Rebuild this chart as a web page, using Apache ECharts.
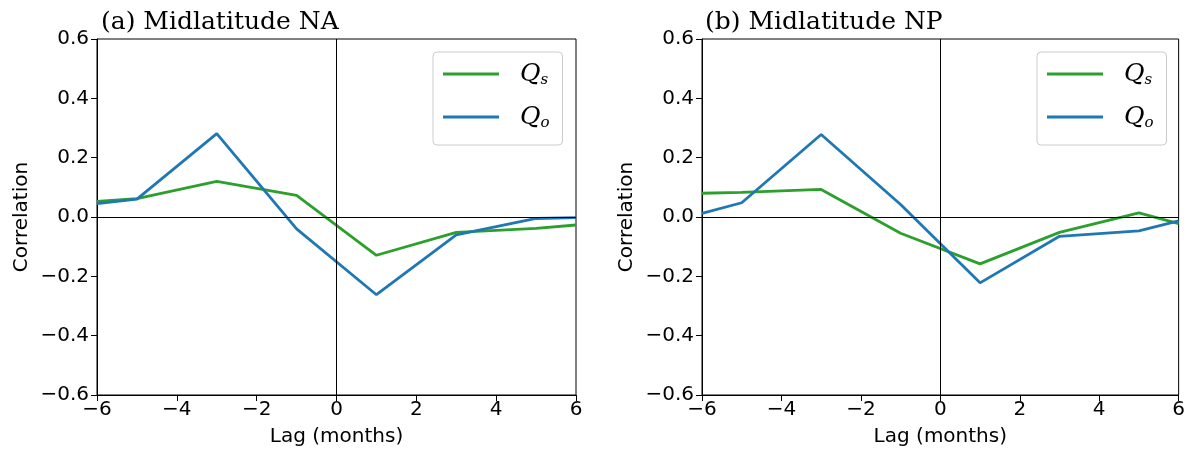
<!DOCTYPE html>
<html>
<head>
<meta charset="utf-8">
<script src="https://cdn.jsdelivr.net/npm/echarts@6/dist/echarts.min.js"></script>
<style>
html,body{margin:0;padding:0;background:#fff;}
#chart{width:1188px;height:452px;}
</style>
</head>
<body>
<div id="chart"></div>
<script>
// ---- data ----
const lags = [-6, -5, -3, -1, 1, 3, 5, 6];
const naQs = [0.053, 0.062, 0.120, 0.073, -0.129, -0.052, -0.038, -0.027];
const naQo = [0.045, 0.060, 0.281, -0.040, -0.262, -0.060, -0.005, -0.002];
const npQs = [0.080, 0.083, 0.093, -0.055, -0.158, -0.052, 0.014, -0.022];
const npQo = [0.012, 0.048, 0.278, 0.042, -0.222, -0.065, -0.047, -0.013];
const panelTitles = ['(a) Midlatitude NA', '(b) Midlatitude NP'];
const seriesNames = ['Qs', 'Qo'];
const xTicks = { min: -6, max: 6, interval: 2 };
const yTicks = { min: -0.6, max: 0.6, interval: 0.2 };

const GREEN = '#2ca02c', BLUE = '#1f77b4';
const pair = (ys) => lags.map((x, i) => [x, ys[i]]);
const fmtY = (v) => (v < -1e-9 ? '\u2212' : '') + Math.abs(v).toFixed(1);
const fmtX = (v) => (v < 0 ? '\u2212' + Math.abs(v) : String(v));

const grids = [
  { left: 97, top: 39, width: 479, height: 360 },
  { left: 702, top: 39, width: 477, height: 360 }
];

function xAxis(gi) {
  return {
    type: 'value', gridIndex: gi, min: xTicks.min, max: xTicks.max, interval: xTicks.interval,
    name: 'Lag (months)', nameLocation: 'middle', nameGap: 32,
    nameTextStyle: { fontFamily: 'DejaVu Sans', fontSize: 20, color: '#000' },
    axisLine: { show: true, onZero: false, lineStyle: { color: '#000', width: 1 } },
    axisTick: { show: true, length: 6, lineStyle: { color: '#000', width: 1 } },
    axisLabel: { formatter: fmtX, fontFamily: 'DejaVu Sans', fontSize: 20, color: '#000', margin: 5 },
    splitLine: { show: false }
  };
}
function yAxis(gi) {
  return {
    type: 'value', gridIndex: gi, min: yTicks.min, max: yTicks.max, interval: yTicks.interval,
    name: 'Correlation', nameLocation: 'middle', nameGap: 65,
    nameTextStyle: { fontFamily: 'DejaVu Sans', fontSize: 20, color: '#000' },
    axisLine: { show: true, onZero: false, lineStyle: { color: '#000', width: 1 } },
    axisTick: { show: true, length: 6, lineStyle: { color: '#000', width: 1 } },
    axisLabel: { formatter: fmtY, fontFamily: 'DejaVu Sans', fontSize: 20, color: '#000', margin: 8 },
    splitLine: { show: false }
  };
}

const zeroLines = {
  silent: true, symbol: 'none', animation: false,
  label: { show: false },
  lineStyle: { color: '#000', width: 1, type: 'solid' },
  data: [{ yAxis: 0 }, { xAxis: 0 }]
};

function line(name, data, color, gi, withZero) {
  const s = {
    type: 'line', name: name, xAxisIndex: gi, yAxisIndex: gi,
    data: pair(data), symbol: 'none', showSymbol: false, animation: false,
    lineStyle: { color: color, width: 2.8 }, itemStyle: { color: color }, z: 3
  };
  if (withZero) s.markLine = zeroLines;
  return s;
}

function legend(left) {
  return {
    orient: 'vertical', left: left, top: 52,
    data: seriesNames,
    icon: 'rect',
    itemWidth: 56, itemHeight: 3, itemGap: 15,
    padding: [8, 13, 14, 10],
    borderColor: '#cccccc', borderWidth: 1, borderRadius: 4,
    backgroundColor: 'rgba(255,255,255,0.8)',
    selectedMode: false,
    formatter: (n) => n === 'Qs' ? '{q|Q}{s|s}' : '{q|Q}{s|o}',
    textStyle: {
      padding: [0, 0, 0, 16], lineHeight: 28,
      rich: {
        q: { fontFamily: 'DejaVu Serif', fontStyle: 'italic', fontSize: 25, color: '#000', lineHeight: 28 },
        s: { fontFamily: 'DejaVu Serif', fontStyle: 'italic', fontSize: 15, color: '#000', verticalAlign: 'bottom', lineHeight: 28, padding: [6, 0, 0, 0] }
      }
    }
  };
}

const titleStyle = { fontFamily: 'DejaVu Serif', fontWeight: 'normal', fontSize: 25, color: '#000' };

const chart = echarts.init(document.getElementById('chart'), null, { renderer: 'canvas' });
chart.setOption({
  backgroundColor: '#fff',
  animation: false,
  title: [
    { text: panelTitles[0], left: 101, top: 10, padding: 0, textStyle: titleStyle },
    { text: panelTitles[1], left: 705, top: 10, padding: 0, textStyle: titleStyle }
  ],
  legend: [legend(433), legend(1037)],
  grid: grids.map(g => Object.assign({ show: true, borderColor: '#000', borderWidth: 1, backgroundColor: 'transparent' }, g)),
  xAxis: [xAxis(0), xAxis(1)],
  yAxis: [yAxis(0), yAxis(1)],
  series: [
    line('Qs', naQs, GREEN, 0, true),
    line('Qo', naQo, BLUE, 0, false),
    line('Qs', npQs, GREEN, 1, true),
    line('Qo', npQo, BLUE, 1, false)
  ]
});
</script>
</body>
</html>
